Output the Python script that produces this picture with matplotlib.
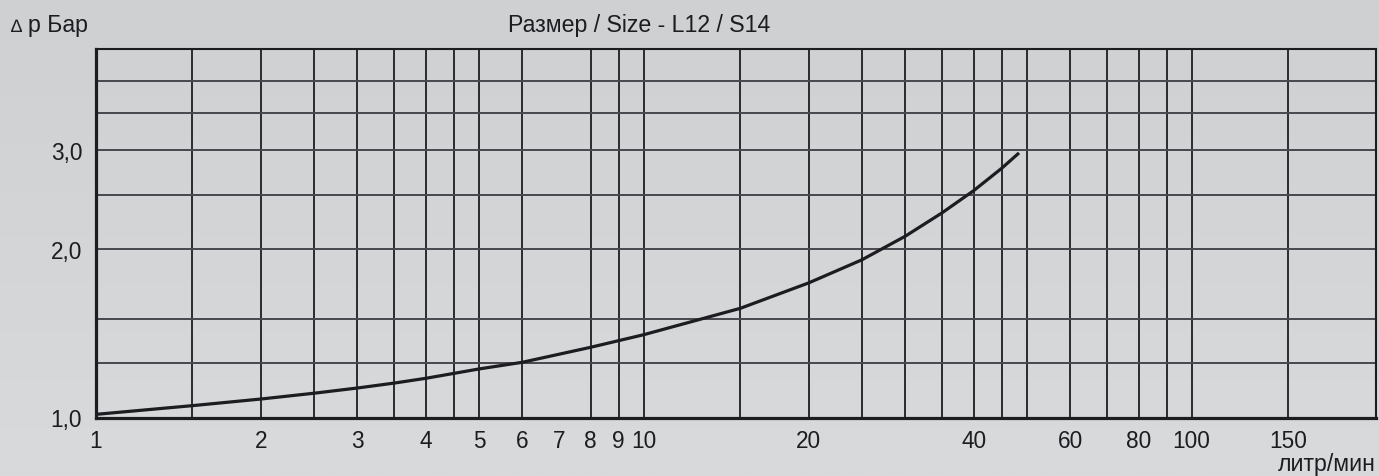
import numpy as np
import matplotlib
matplotlib.use("Agg")
import matplotlib.pyplot as plt
from matplotlib.ticker import FixedLocator, FixedFormatter, NullFormatter

# ---- data ----
flow = [1, 1.5, 2, 2.5, 3, 3.5, 4, 4.5, 5, 6, 8, 9, 10, 15, 20, 25, 30, 35, 40, 45, 48.4]
dp = [1.013, 1.050, 1.079, 1.105, 1.129, 1.152, 1.175, 1.199, 1.221, 1.255,
      1.335, 1.372, 1.406, 1.567, 1.740, 1.913, 2.108, 2.320, 2.543, 2.788, 2.970]

x_ticks = [1, 2, 3, 4, 5, 6, 7, 8, 9, 10, 20, 40, 60, 80, 100, 150]
x_tick_labels = ["1", "2", "3", "4", "5", "6", "7", "8", "9", "10", "20", "40", "60", "80", "100", "150"]
x_grid = [1.5, 2, 2.5, 3, 3.5, 4, 4.5, 5, 6, 8, 9, 10, 15, 20, 25, 30, 35, 40, 45, 50,
          60, 70, 80, 90, 100, 150]
y_ticks = [1.0, 2.0, 3.0]
y_tick_labels = ["1,0", "2,0", "3,0"]
y_grid = [1.25, 1.5, 2.0, 2.5, 3.0, 3.5, 4.0]

title = "Размер / Size - L12 / S14"
y_unit = "p Бар"
x_unit = "литр/мин"

W, H = 1379, 477
fig = plt.figure(figsize=(W / 100, H / 100), dpi=100)
plt.rcParams['font.family'] = ['Liberation Sans', 'DejaVu Sans']

# background gradient
bg = fig.add_axes([0, 0, 1, 1], zorder=-10)
grad = np.linspace(0, 1, 200).reshape(-1, 1)
top_c = np.array([207, 208, 210]) / 255
bot_c = np.array([217, 218, 220]) / 255
img = top_c[None, None, :] * (1 - grad[:, :, None]) + bot_c[None, None, :] * grad[:, :, None]
bg.imshow(img, aspect='auto', extent=[0, 1, 0, 1])
bg.set_axis_off()

ax = fig.add_axes([96 / W, (H - 418.5) / H, 1280 / W, 368.8 / H])
ax.patch.set_alpha(0)
ax.set_xscale('log')
ax.set_yscale('log')
ax.set_xlim(1, 217)
ax.set_ylim(1.0, 4.56)

dark = '#1c1c21'
for gx in x_grid:
    ax.axvline(gx, color='#2a2a30', lw=1.4, zorder=1)
for gy in y_grid:
    ax.axhline(gy, color='#47474d', lw=1.4, zorder=1)

ax.plot(flow, dp, color=dark, lw=2.3, zorder=3, solid_capstyle='butt')

ax.xaxis.set_major_locator(FixedLocator(x_ticks))
ax.xaxis.set_major_formatter(FixedFormatter(x_tick_labels))
ax.xaxis.set_minor_locator(FixedLocator([]))
ax.xaxis.set_minor_formatter(NullFormatter())
ax.yaxis.set_major_locator(FixedLocator(y_ticks))
ax.yaxis.set_major_formatter(FixedFormatter(y_tick_labels))
ax.yaxis.set_minor_locator(FixedLocator([]))
ax.yaxis.set_minor_formatter(NullFormatter())
ax.tick_params(axis='x', length=0, pad=8.5, labelsize=16.3, labelcolor=dark)
ax.tick_params(axis='y', length=0, pad=10, labelsize=16.3, labelcolor=dark)

for side in ['left', 'bottom']:
    ax.spines[side].set_linewidth(2.3)
    ax.spines[side].set_color(dark)
for side in ['top', 'right']:
    ax.spines[side].set_linewidth(1.5)
    ax.spines[side].set_color(dark)

base_y = (H - 32) / H
fig.text(638.7 / W, base_y, title, ha='center', va='baseline', fontsize=16.7, color=dark)
fig.text(10.5 / W, base_y, "∆", ha='left', va='baseline', fontsize=13, color=dark)
fig.text(28.5 / W, base_y, y_unit, ha='left', va='baseline', fontsize=16.7, color=dark)
fig.text(1375.5 / W, 6 / H, x_unit, ha='right', va='baseline', fontsize=16.7, color=dark)

fig.savefig("out.png", dpi=100)
